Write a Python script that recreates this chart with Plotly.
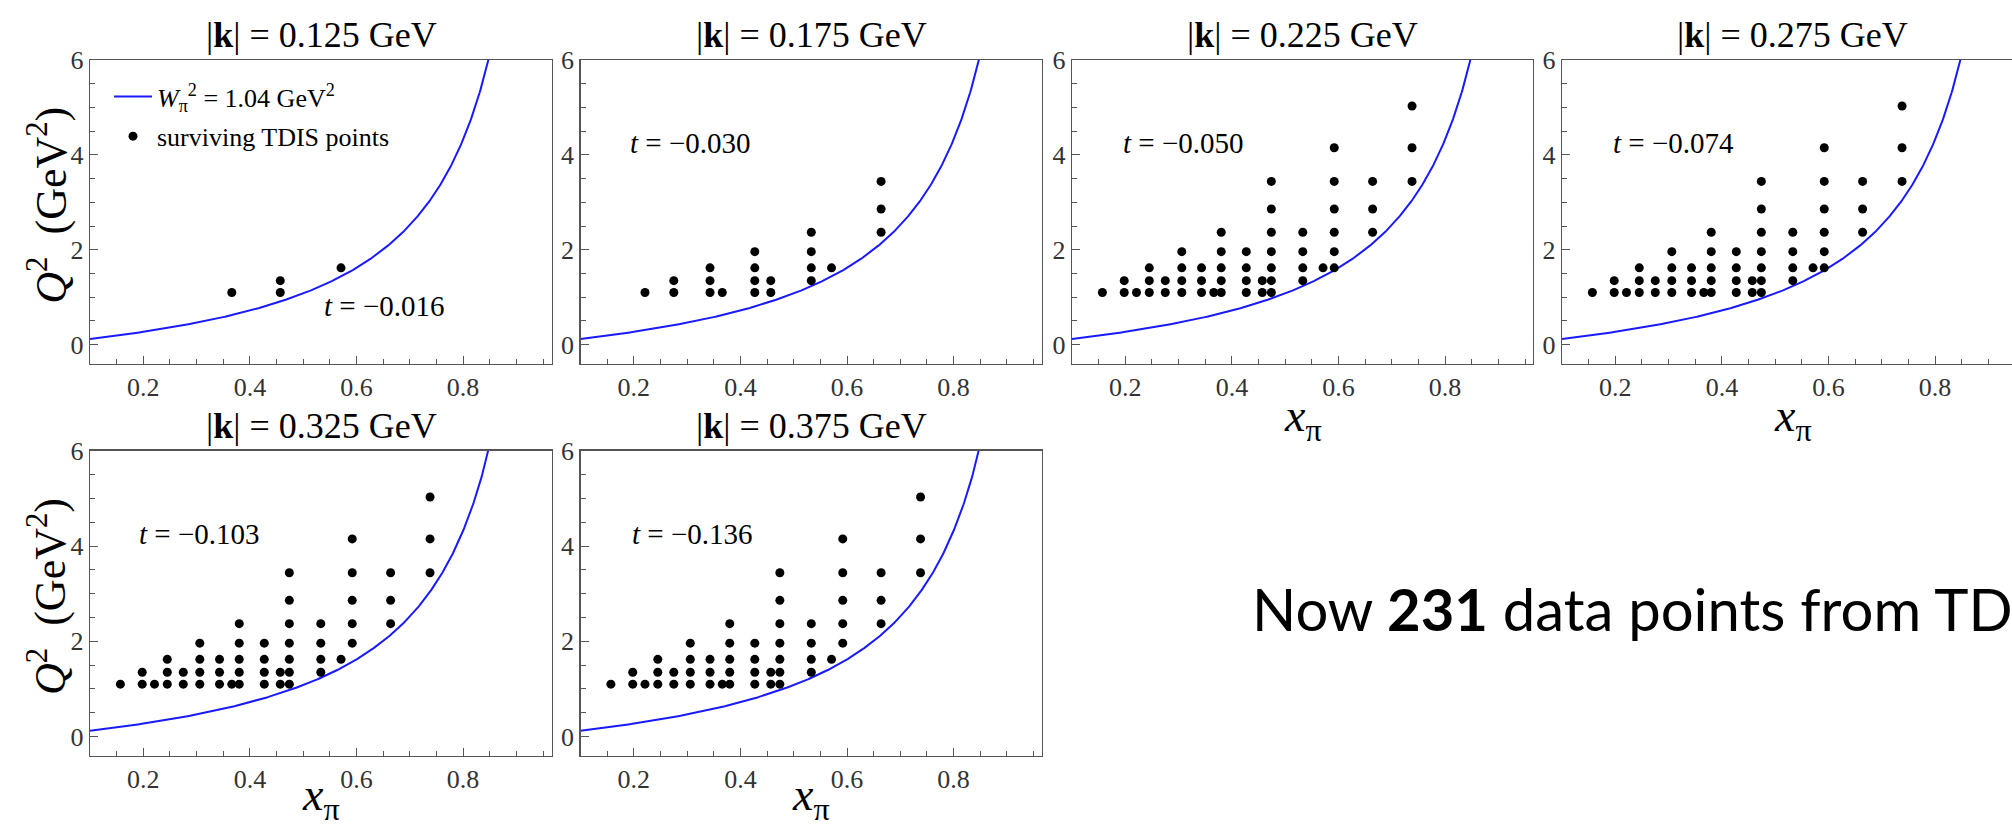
import numpy as np
import plotly.graph_objects as go

W, H = 2012, 829
SERIF = "Liberation Serif, DejaVu Serif, serif"
SANS = "Lato, Noto Sans, sans-serif"

# ---------------- data ----------------
K_VALUES = ["0.125", "0.175", "0.225", "0.275", "0.325", "0.375"]   # |k| in GeV
T_VALUES = ["−0.016", "−0.030", "−0.050", "−0.074", "−0.103", "−0.136"]

W2_PI = 1.04      # GeV^2, boundary curve W_pi^2
T_EFF = -0.04     # effective virtuality used in the boundary relation

# columns of surviving TDIS points: (x_pi, [Q^2 values])
K125_COLS = [
    (0.366, [1.10]),
    (0.457, [1.10, 1.35]),
    (0.571, [1.62]),
]
K175_COLS = [
    (0.221, [1.10]),
    (0.275, [1.10, 1.35]),
    (0.343, [1.10, 1.35, 1.62]),
    (0.366, [1.10]),
    (0.427, [1.10, 1.35, 1.62, 1.96]),
    (0.457, [1.10, 1.35]),
    (0.533, [1.35, 1.62, 1.96, 2.37]),
    (0.571, [1.62]),
    (0.664, [2.37, 2.86, 3.44]),
]
K225_COLS = [
    (0.157, [1.10]),
    (0.198, [1.10, 1.35]),
    (0.221, [1.10]),
    (0.245, [1.10, 1.35, 1.62]),
    (0.275, [1.10, 1.35]),
    (0.306, [1.10, 1.35, 1.62, 1.96]),
    (0.343, [1.10, 1.35, 1.62]),
    (0.366, [1.10]),
    (0.380, [1.10, 1.35, 1.62, 1.96, 2.37]),
    (0.427, [1.10, 1.35, 1.62, 1.96]),
    (0.457, [1.10, 1.35]),
    (0.474, [1.10, 1.35, 1.62, 1.96, 2.37, 2.86, 3.44]),
    (0.533, [1.35, 1.62, 1.96, 2.37]),
    (0.571, [1.62]),
    (0.592, [1.62, 1.96, 2.37, 2.86, 3.44, 4.15]),
    (0.664, [2.37, 2.86, 3.44]),
    (0.738, [3.44, 4.15, 5.03]),
]
K275_COLS = [
    (0.157, [1.10]),
    (0.198, [1.10, 1.35]),
    (0.221, [1.10]),
    (0.245, [1.10, 1.35, 1.62]),
    (0.275, [1.10, 1.35]),
    (0.306, [1.10, 1.35, 1.62, 1.96]),
    (0.343, [1.10, 1.35, 1.62]),
    (0.366, [1.10]),
    (0.380, [1.10, 1.35, 1.62, 1.96, 2.37]),
    (0.427, [1.10, 1.35, 1.62, 1.96]),
    (0.457, [1.10, 1.35]),
    (0.474, [1.10, 1.35, 1.62, 1.96, 2.37, 2.86, 3.44]),
    (0.533, [1.35, 1.62, 1.96, 2.37]),
    (0.571, [1.62]),
    (0.592, [1.62, 1.96, 2.37, 2.86, 3.44, 4.15]),
    (0.664, [2.37, 2.86, 3.44]),
    (0.738, [3.44, 4.15, 5.03]),
]
K325_COLS = [
    (0.157, [1.10]),
    (0.198, [1.10, 1.35]),
    (0.221, [1.10]),
    (0.245, [1.10, 1.35, 1.62]),
    (0.275, [1.10, 1.35]),
    (0.306, [1.10, 1.35, 1.62, 1.96]),
    (0.343, [1.10, 1.35, 1.62]),
    (0.366, [1.10]),
    (0.380, [1.10, 1.35, 1.62, 1.96, 2.37]),
    (0.427, [1.10, 1.35, 1.62, 1.96]),
    (0.457, [1.10, 1.35]),
    (0.474, [1.10, 1.35, 1.62, 1.96, 2.37, 2.86, 3.44]),
    (0.533, [1.35, 1.62, 1.96, 2.37]),
    (0.571, [1.62]),
    (0.592, [1.96, 2.37, 2.86, 3.44, 4.15]),
    (0.664, [2.37, 2.86, 3.44]),
    (0.738, [3.44, 4.15, 5.03]),
]
K375_COLS = [
    (0.157, [1.10]),
    (0.198, [1.10, 1.35]),
    (0.221, [1.10]),
    (0.245, [1.10, 1.35, 1.62]),
    (0.275, [1.10, 1.35]),
    (0.306, [1.10, 1.35, 1.62, 1.96]),
    (0.343, [1.10, 1.35, 1.62]),
    (0.366, [1.10]),
    (0.380, [1.10, 1.35, 1.62, 1.96, 2.37]),
    (0.427, [1.10, 1.35, 1.62, 1.96]),
    (0.457, [1.10, 1.35]),
    (0.474, [1.10, 1.35, 1.62, 1.96, 2.37, 2.86, 3.44]),
    (0.533, [1.35, 1.62, 1.96, 2.37]),
    (0.571, [1.62]),
    (0.592, [1.96, 2.37, 2.86, 3.44, 4.15]),
    (0.664, [2.37, 2.86, 3.44]),
    (0.738, [3.44, 4.15, 5.03]),
]
PANEL_COLS = [K125_COLS, K175_COLS, K225_COLS, K275_COLS, K325_COLS, K375_COLS]

# ---------------- layout (pixel geometry) ----------------
PX_PER_X = 533.0
LAYOUT = [
    dict(l=90, r=552, t=46.7, b=355.7, right=True),
    dict(l=580.5, r=1041.5, t=46.7, b=355.7, right=True),
    dict(l=1072, r=1533, t=46.7, b=355.7, right=True),
    dict(l=1562, r=2012, t=46.7, b=355.7, right=False),
    dict(l=90, r=552, t=444.3, b=754.3, right=True),
    dict(l=580.5, r=1041.5, t=444.3, b=754.3, right=True),
]
T_POS = [(0.652, 0.82), (0.307, 4.26), (0.31, 4.26), (0.31, 4.26), (0.305, 4.26), (0.31, 4.26)]
XLAB_TOP_ROW = {2: 412, 3: 412}
XLAB_BOTTOM_ROW = [4, 5]
YLAB = {0: 195, 4: 593}


def fx(p):
    return p / W


def fy(p):
    return 1 - p / H


FRAME = "#555555"
fig = go.Figure()

xc = np.linspace(0.1, 0.9, 500)
qc = (W2_PI - T_EFF) * xc / (1 - xc)

annotations = []
for i, (cols, geo) in enumerate(zip(PANEL_COLS, LAYOUT)):
    n = i + 1
    xa = "x" if n == 1 else f"x{n}"
    ya = "y" if n == 1 else f"y{n}"
    px_, py_ = [], []
    for xv, qs in cols:
        for q in qs:
            px_.append(xv)
            py_.append(q)
    fig.add_trace(go.Scatter(
        x=xc, y=qc, mode="lines", xaxis=xa, yaxis=ya,
        line=dict(color="#1a1aff", width=2),
        name="<i>W</i><sub>π</sub><sup>2</sup> = 1.04 GeV<sup>2</sup>",
        legendgroup="curve", showlegend=(n == 1), hoverinfo="skip"))
    fig.add_trace(go.Scatter(
        x=px_, y=py_, mode="markers", xaxis=xa, yaxis=ya,
        marker=dict(color="black", size=9),
        name="surviving TDIS points",
        legendgroup="points", showlegend=(n == 1), cliponaxis=False))

    xr = [0.1, 0.1 + (geo["r"] - geo["l"]) / PX_PER_X]
    axis_font = dict(family=SERIF, size=26, color="#333333")
    fig.update_layout(**{
        ("xaxis" if n == 1 else f"xaxis{n}"): dict(
            domain=[fx(geo["l"]), fx(geo["r"])], range=xr, anchor=ya,
            showline=True, linecolor=FRAME, linewidth=1.3, mirror=True,
            ticks="inside", ticklen=8, tickwidth=1, tickcolor=FRAME,
            tick0=0, dtick=0.2, tickfont=axis_font,
            showgrid=False, zeroline=False, fixedrange=True,
            minor=dict(dtick=0.05, ticks="inside", ticklen=5, tickcolor=FRAME, showgrid=False)),
        ("yaxis" if n == 1 else f"yaxis{n}"): dict(
            domain=[fy(geo["b"]), fy(geo["t"])], range=[-0.4, 6], anchor=xa,
            showline=True, linecolor=FRAME, linewidth=1.3, mirror=geo["right"],
            ticks="inside", ticklen=8, tickwidth=1, tickcolor=FRAME,
            tick0=0, dtick=2, tickfont=axis_font,
            showgrid=False, zeroline=False, fixedrange=True,
            minor=dict(dtick=0.5, ticks="inside", ticklen=5, tickcolor=FRAME, showgrid=False)),
    })

    right_edge = geo["l"] + 461 if not geo["right"] else geo["r"]
    cx = fx((geo["l"] + right_edge) / 2)
    # panel title
    annotations.append(dict(
        text=f"|<b>k</b>| = {K_VALUES[i]} GeV", xref="paper", yref="paper",
        x=cx, y=fy(geo["t"] - 25), xanchor="center", yanchor="middle",
        showarrow=False, font=dict(family=SERIF, size=36, color="black")))
    # t label
    annotations.append(dict(
        text=f"<i>t</i> = {T_VALUES[i]}", xref=xa, yref=ya,
        x=T_POS[i][0], y=T_POS[i][1], xanchor="center", yanchor="middle",
        showarrow=False, font=dict(family=SERIF, size=29, color="black")))
    if i in XLAB_TOP_ROW:
        annotations.append(dict(
            text="<i>x</i><sub>π</sub>", xref="paper", yref="paper",
            x=cx, y=fy(XLAB_TOP_ROW[i]), xanchor="center", yanchor="middle",
            showarrow=False, font=dict(family=SERIF, size=46, color="black")))
    if i in XLAB_BOTTOM_ROW:
        annotations.append(dict(
            text="<i>x</i><sub>π</sub>", xref="paper", yref="paper",
            x=cx, y=0, xanchor="center", yanchor="bottom",
            showarrow=False, font=dict(family=SERIF, size=46, color="black")))
    if i in YLAB:
        annotations.append(dict(
            text="<i>Q</i><sup>2</sup>\u2002(GeV<sup>2</sup>)", xref="paper", yref="paper",
            x=fx(48), y=fy(YLAB[i]), xanchor="center", yanchor="middle", textangle=-90,
            showarrow=False, font=dict(family=SERIF, size=44, color="black")))

annotations.append(dict(
    text="Now <b>231</b> data points from TD", xref="paper", yref="paper",
    x=fx(1250), y=fy(605), xanchor="left", yanchor="middle",
    showarrow=False, font=dict(family=SANS, size=58, color="black")))

fig.update_layout(
    width=W, height=H, margin=dict(l=0, r=0, t=0, b=0),
    paper_bgcolor="white", plot_bgcolor="white",
    annotations=annotations,
    hovermode=False,
    legend=dict(x=fx(109), y=fy(60), xanchor="left", yanchor="top",
                bgcolor="rgba(0,0,0,0)", itemwidth=38,
                traceorder="grouped", tracegroupgap=3,
                font=dict(family=SERIF, size=26, color="black")),
)

fig.write_html("out.html",
               config={"displayModeBar": False, "staticPlot": True},
               post_script="document.body.style.margin='0px';document.body.style.overflow='hidden';")
